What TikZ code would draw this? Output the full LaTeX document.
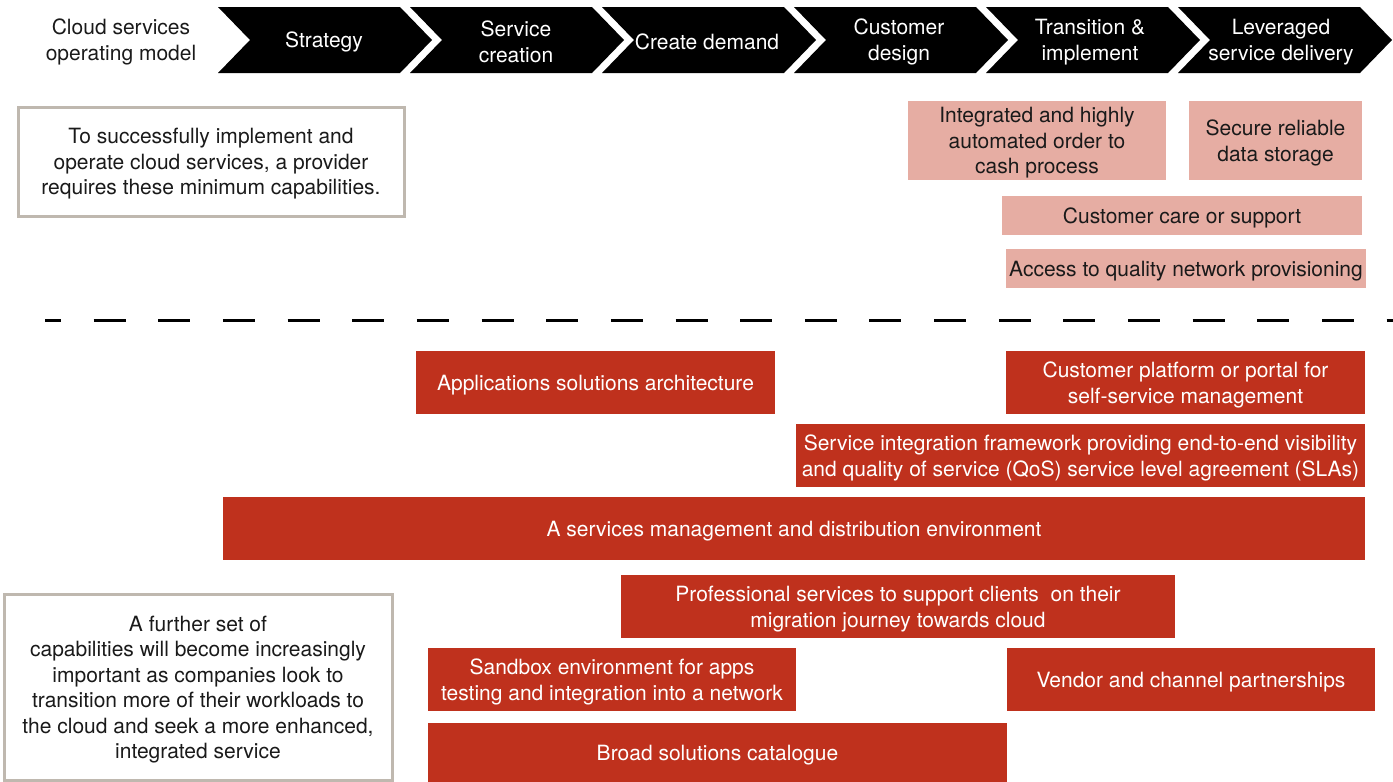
\documentclass[tikz,border=0pt]{standalone}
\usepackage{fontspec}
\setmainfont{TeX Gyre Heros}
\definecolor{redbox}{HTML}{BF311D}
\definecolor{pinkbox}{HTML}{E6ADA3}
\definecolor{greyline}{HTML}{BFB8AF}
\definecolor{darktext}{HTML}{1A1A1A}
\begin{document}
\begin{tikzpicture}[x=1pt,y=-1pt,
  txt/.style={font=\fontsize{21pt}{25.5pt}\selectfont, align=center, inner sep=0pt},
  chevtext/.style={txt, text=white},
  redcap/.style={fill=redbox, inner sep=0pt, anchor=center},
  pinkcap/.style={fill=pinkbox, inner sep=0pt, anchor=center},
  notebox/.style={draw=greyline, line width=3pt, fill=white, inner sep=0pt, anchor=center},
  whitetxt/.style={txt, text=white},
  darktxt/.style={txt, text=darktext},
  chev/.style={fill=black}
]
\useasboundingbox (0,0) rectangle (1393,782);
% chevrons
\foreach \L in {218,410,602,794,986,1178}{
  \fill[chev] (\L,7) -- (\L+182,7) -- (\L+214,40) -- (\L+182,73) -- (\L,73) -- (\L+32,40) -- cycle;
}
\node[darktxt] (title) at (121,42) {Cloud services\\operating model};
\node[chevtext] (c1) at (324,42) {Strategy};
\node[chevtext] (c2) at (516,42) {Service\\creation};
\node[chevtext] (c3) at (707,42) {Create demand};
\node[chevtext] (c4) at (899,42) {Customer\\design};
\node[chevtext] (c5) at (1090,42) {Transition \&\\implement};
\node[chevtext] (c6) at (1281,42) {Leveraged\\service delivery};
% upper notes
\node[notebox, minimum width=386pt, minimum height=109pt] (w1) at (211,161.5) {};
\node[darktxt] (w1t) at ([yshift=-2.5pt]w1.center)
  {To successfully implement and\\operate cloud services, a provider\\requires these minimum capabilities.};
\node[pinkcap, minimum width=258pt, minimum height=79pt] (p1) at (1037,140.5) {};
\node[darktxt] (p1t) at ([yshift=-2.5pt]p1.center) {Integrated and highly\\automated order to\\cash process};
\node[pinkcap, minimum width=173pt, minimum height=79pt] (p2) at (1275.5,140.5) {};
\node[darktxt] (p2t) at ([yshift=-2.5pt]p2.center) {Secure reliable\\data storage};
\node[pinkcap, minimum width=360pt, minimum height=39pt] (p3) at (1182,215.5) {};
\node[darktxt] (p3t) at ([yshift=-2.5pt]p3.center) {Customer care or support};
\node[pinkcap, minimum width=360pt, minimum height=39pt] (p4) at (1186,268.5) {};
\node[darktxt] (p4t) at ([yshift=-2.5pt]p4.center) {Access to quality network provisioning};
% divider
\coordinate (dl) at (45,320);
\coordinate (dr) at (1393,320);
\draw[line width=3pt, dash pattern=on 32pt off 32.65pt, dash phase=16pt] (dl) -- (dr);
% red boxes
\node[redcap, minimum width=359pt, minimum height=63pt] (r1) at (595.5,382.5) {};
\node[whitetxt] (r1t) at ([yshift=-2.5pt]r1.center) {Applications solutions architecture};
\node[redcap, minimum width=359pt, minimum height=63pt] (r2) at (1185.5,382.5) {};
\node[whitetxt] (r2t) at ([yshift=-2.5pt]r2.center) {Customer platform or portal for\\self-service management};
\node[redcap, minimum width=569pt, minimum height=63pt] (r3) at (1080.5,455.5) {};
\node[whitetxt] (r3t) at ([yshift=-2.5pt]r3.center)
  {Service integration framework providing end-to-end visibility\\and quality of service (QoS) service level agreement (SLAs)};
\node[redcap, minimum width=1142pt, minimum height=63pt] (r4) at (794,528.5) {};
\node[whitetxt] (r4t) at ([yshift=-2.5pt]r4.center) {A services management and distribution environment};
\node[redcap, minimum width=554pt, minimum height=63pt] (r5) at (898,606.5) {};
\node[whitetxt] (r5t) at ([yshift=-2.5pt]r5.center)
  {Professional services to support clients\ \ on their\\migration journey towards cloud};
\node[redcap, minimum width=368pt, minimum height=63pt] (r6) at (612,679.5) {};
\node[whitetxt] (r6t) at ([yshift=-2.5pt]r6.center) {Sandbox environment for apps\\testing and integration into a network};
\node[redcap, minimum width=368pt, minimum height=63pt] (r7) at (1191,679.5) {};
\node[whitetxt] (r7t) at ([yshift=-2.5pt]r7.center) {Vendor and channel partnerships};
\node[redcap, minimum width=579pt, minimum height=59pt] (r8) at (717.5,752.5) {};
\node[whitetxt] (r8t) at ([yshift=-3pt]r8.center) {Broad solutions catalogue};
% lower note
\node[notebox, minimum width=388pt, minimum height=186pt] (w2) at (198,687) {};
\node[darktxt] (w2t) at ([yshift=-2.5pt]w2.center)
  {A further set of\\capabilities will become increasingly\\important as companies look to\\transition more of their workloads to\\the cloud and seek a more enhanced,\\integrated service};
\end{tikzpicture}
\end{document}
